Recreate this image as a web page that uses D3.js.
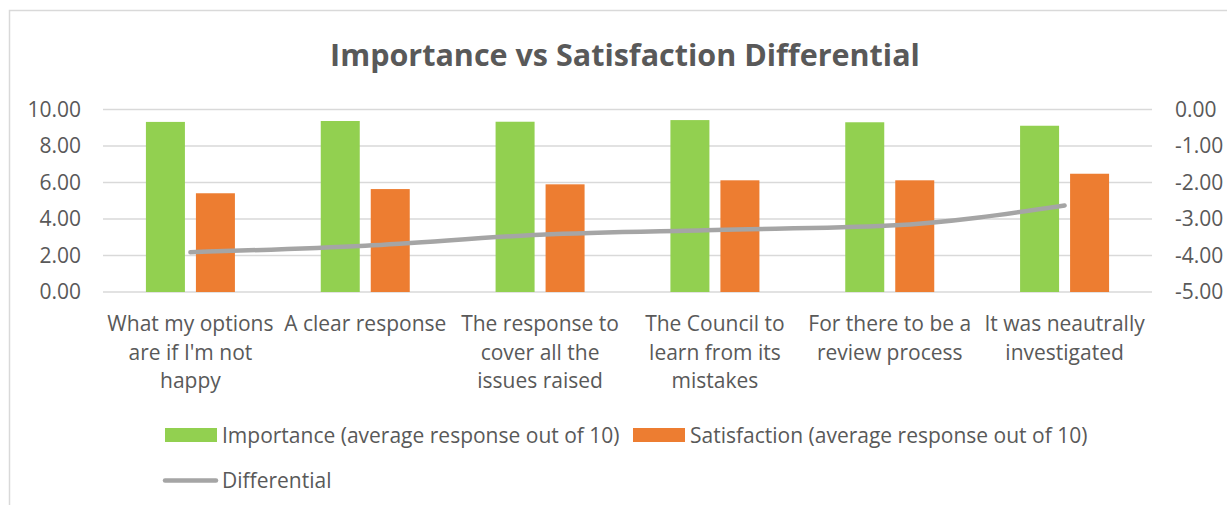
<!DOCTYPE html>
<html>
<head>
<meta charset="utf-8">
<script src="https://cdn.jsdelivr.net/npm/d3@7"></script>
<style>
  body { margin: 0; background: #fff; }
  svg text { font-family: "Open Sans", Lato, sans-serif; fill: #595959; }
</style>
</head>
<body>
<svg class="chart" width="1227" height="505"></svg>
<script>
const categories = [
  "What my options are if I'm not happy",
  "A clear response",
  "The response to cover all the issues raised",
  "The Council to learn from its mistakes",
  "For there to be a review process",
  "It was neautrally investigated"
];
const importance = [9.32, 9.37, 9.33, 9.42, 9.30, 9.11];
const satisfaction = [5.41, 5.64, 5.90, 6.12, 6.12, 6.48];
const differential = [-3.91, -3.73, -3.43, -3.30, -3.18, -2.63];
const leftTicks = [0, 2, 4, 6, 8, 10];
const rightTicks = [-5, -4, -3, -2, -1, 0];
const seriesNames = ["Importance (average response out of 10)", "Satisfaction (average response out of 10)"];

const svg = d3.select("svg.chart");

// chart border
svg.append("rect")
  .attr("x", 9.5).attr("y", 10.5)
  .attr("width", 1230).attr("height", 510)
  .attr("fill", "none")
  .attr("stroke", "#d9d9d9")
  .attr("stroke-width", 1.5);

svg.append("text")
  .attr("x", 625).attr("y", 66)
  .attr("text-anchor", "middle")
  .attr("font-size", 30.5)
  .attr("font-weight", "bold")
  .text("Importance vs Satisfaction Differential");

const x = d3.scaleBand().domain(categories).range([103, 1152]);
const sub = d3.scaleBand().domain(["imp", "sat"]).range([-50, 50])
  .paddingInner(0.22).paddingOuter(0.11);
const yLeft = d3.scaleLinear().domain([0, 10]).range([292, 109.5]);
const yRight = d3.scaleLinear().domain([-5, 0]).range([292, 109.5]);
const fmt = d3.format(".2f");
const tickFmt = d => fmt(d).replace("\u2212", "-");

// gridlines
svg.append("g")
  .selectAll("line")
  .data(leftTicks)
  .enter()
  .append("line")
  .attr("x1", 103).attr("x2", 1152)
  .attr("y1", d => yLeft(d)).attr("y2", d => yLeft(d))
  .attr("stroke", "#d9d9d9")
  .attr("stroke-width", 1.5);

const leftAxis = svg.append("g")
  .attr("transform", "translate(81,0)")
  .call(d3.axisLeft(yLeft).tickValues(leftTicks).tickFormat(tickFmt).tickSize(0).tickPadding(0));
const rightAxis = svg.append("g")
  .attr("transform", "translate(1175,0)")
  .call(d3.axisRight(yRight).tickValues(rightTicks).tickFormat(tickFmt).tickSize(0).tickPadding(0));
[leftAxis, rightAxis].forEach(a => {
  a.select(".domain").remove();
  a.selectAll("text")
    .attr("font-size", 21)
    .attr("fill", "#595959")
    .attr("font-family", "'Open Sans', sans-serif");
});

// bars
const groups = svg.append("g")
  .selectAll("g")
  .data(categories)
  .enter()
  .append("g")
  .attr("transform", d => "translate(" + (x(d) + x.bandwidth() / 2) + ",0)");

groups.append("rect")
  .attr("x", sub("imp"))
  .attr("width", sub.bandwidth())
  .attr("y", (d, i) => yLeft(importance[i]))
  .attr("height", (d, i) => yLeft(0) - yLeft(importance[i]))
  .attr("fill", "#92d050");

groups.append("rect")
  .attr("x", sub("sat"))
  .attr("width", sub.bandwidth())
  .attr("y", (d, i) => yLeft(satisfaction[i]))
  .attr("height", (d, i) => yLeft(0) - yLeft(satisfaction[i]))
  .attr("fill", "#ed7d31");

// differential line
const line = d3.line()
  .x((d, i) => x(categories[i]) + x.bandwidth() / 2)
  .y(d => yRight(d))
  .curve(d3.curveMonotoneX);

svg.append("path")
  .datum(differential)
  .attr("d", line)
  .attr("fill", "none")
  .attr("stroke", "#a5a5a5")
  .attr("stroke-width", 4.5)
  .attr("stroke-linecap", "round");

// category labels, wrapped to the band width
function wrap(textSel, width) {
  textSel.each(function (d) {
    const text = d3.select(this);
    const words = d.split(" ");
    let lineWords = [];
    let tspan = text.append("tspan").attr("x", 0).attr("dy", 0);
    words.forEach(w => {
      lineWords.push(w);
      tspan.text(lineWords.join(" "));
      if (tspan.node().getComputedTextLength() > width && lineWords.length > 1) {
        lineWords.pop();
        tspan.text(lineWords.join(" "));
        lineWords = [w];
        tspan = text.append("tspan").attr("x", 0).attr("dy", 28.5).text(w);
      }
    });
  });
}

groups.append("text")
  .attr("y", 331)
  .attr("text-anchor", "middle")
  .attr("font-size", 21)
  .call(wrap, 172);

// legend
const legend = svg.append("g");
const swatchColors = ["#92d050", "#ed7d31"];
const legendX = [165, 633];
seriesNames.forEach((name, i) => {
  legend.append("rect")
    .attr("x", legendX[i]).attr("y", 428)
    .attr("width", 52).attr("height", 14)
    .attr("fill", swatchColors[i]);
  legend.append("text")
    .attr("x", legendX[i] + 57).attr("y", 443)
    .attr("font-size", 21)
    .text(name);
});
legend.append("line")
  .attr("x1", 165).attr("x2", 216)
  .attr("y1", 480.5).attr("y2", 480.5)
  .attr("stroke", "#a5a5a5")
  .attr("stroke-width", 4.5)
  .attr("stroke-linecap", "round");
legend.append("text")
  .attr("x", 222).attr("y", 488)
  .attr("font-size", 21)
  .text("Differential");
</script>
</body>
</html>
